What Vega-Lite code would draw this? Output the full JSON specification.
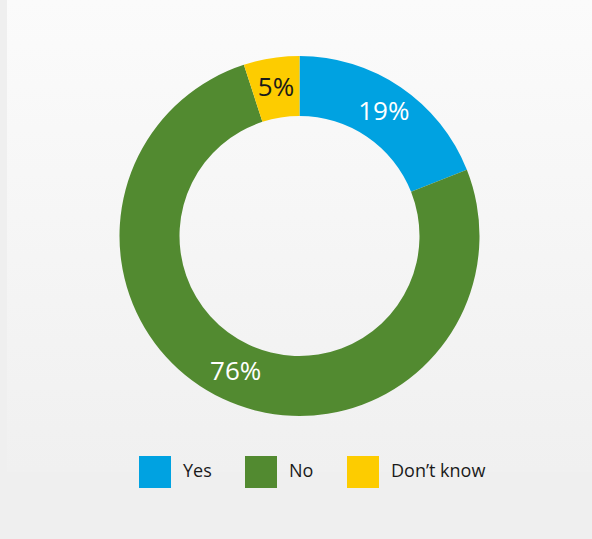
{
  "$schema": "https://vega.github.io/schema/vega-lite/v6.json",
  "width": 585,
  "height": 472,
  "autosize": "none",
  "padding": {"left": 7, "top": 0, "right": 0, "bottom": 67},
  "background": "#efefef",
  "data": {
    "values": [
      {"answer": "Yes", "share": 19, "label": "19%", "o": 1},
      {"answer": "No", "share": 76, "label": "76%", "o": 2},
      {"answer": "Don’t know", "share": 5, "label": "5%", "o": 3}
    ]
  },
  "layer": [
    {
      "data": {"values": [{"panel": 1}]},
      "mark": {
        "type": "rect",
        "fill": {
          "gradient": "linear",
          "x1": 0, "y1": 0, "x2": 0, "y2": 1,
          "stops": [
            {"offset": 0, "color": "#fbfbfb"},
            {"offset": 1, "color": "#f0f0f0"}
          ]
        }
      },
      "encoding": {}
    },
    {
      "mark": {"type": "arc", "innerRadius": 120, "outerRadius": 180},
      "encoding": {
        "theta": {"field": "share", "type": "quantitative", "stack": true},
        "order": {"field": "o", "type": "quantitative"},
        "color": {
          "field": "answer",
          "type": "nominal",
          "scale": {
            "domain": ["Yes", "No", "Don’t know"],
            "range": ["#00a2e1", "#528a30", "#fdcc00"]
          },
          "legend": {
            "title": null,
            "orient": "none",
            "legendX": 132,
            "legendY": 456,
            "direction": "horizontal",
            "symbolType": "square",
            "symbolSize": 1024,
            "symbolStrokeWidth": 0,
            "symbolOpacity": 1,
            "labelOffset": 12,
            "columnPadding": 33,
            "labelFont": "Open Sans",
            "labelFontSize": 18,
            "labelColor": "#1a1a1a",
            "padding": 0
          }
        }
      }
    },
    {
      "mark": {"type": "text", "radius": 150, "font": "Open Sans", "fontSize": 26},
      "encoding": {
        "theta": {"field": "share", "type": "quantitative", "stack": true},
        "order": {"field": "o", "type": "quantitative"},
        "text": {"field": "label", "type": "nominal"},
        "color": {
          "condition": {"test": "datum.answer === 'Don’t know'", "value": "#1a1a1a"},
          "value": "#ffffff"
        }
      }
    }
  ],
  "config": {
    "view": {"stroke": null}
  }
}
